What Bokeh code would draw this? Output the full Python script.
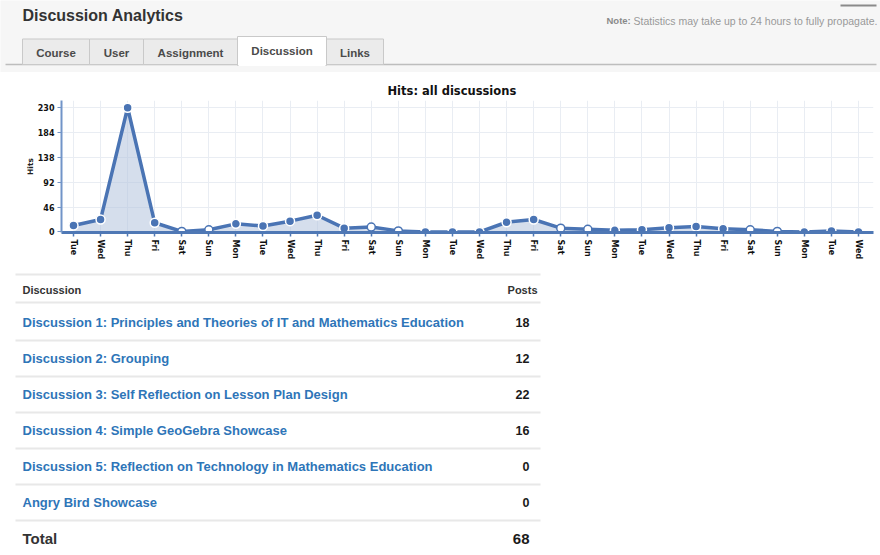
import math

from bokeh.core.properties import value
from bokeh.embed import file_html
from bokeh.layouts import column
from bokeh.models import ColumnDataSource, FixedTicker, Range1d, Title
from bokeh.plotting import figure
from bokeh.resources import INLINE

# ---- data ---------------------------------------------------------------
page_title = "Discussion Analytics"
tab_labels = ["Course", "User", "Assignment", "Discussion", "Links"]
active_tab = "Discussion"
note_label = "Note:"
note_text = "Statistics may take up to 24 hours to fully propagate."

chart_title = "Hits: all discussions"
days = ["Tue", "Wed", "Thu", "Fri", "Sat", "Sun", "Mon",
        "Tue", "Wed", "Thu", "Fri", "Sat", "Sun", "Mon",
        "Tue", "Wed", "Thu", "Fri", "Sat", "Sun", "Mon",
        "Tue", "Wed", "Thu", "Fri", "Sat", "Sun", "Mon",
        "Tue", "Wed"]
hits = [12, 23, 230, 17, 1, 4, 15, 11, 20, 31, 7, 9, 2, 0,
        0, 0, 18, 23, 7, 5, 3, 4, 8, 10, 6, 4, 1, 0, 2, 0]
y_ticks = [0, 46, 92, 138, 184, 230]

discussions = [
    "Discussion 1: Principles and Theories of IT and Mathematics Education",
    "Discussion 2: Grouping",
    "Discussion 3: Self Reflection on Lesson Plan Design",
    "Discussion 4: Simple GeoGebra Showcase",
    "Discussion 5: Reflection on Technology in Mathematics Education",
    "Angry Bird Showcase",
]
posts = [18, 12, 22, 16, 0, 0]

# ---- styling ------------------------------------------------------------
W = 880
PAGE_FONT = value("Liberation Sans")
CHART_FONT = "DejaVu Sans"
BLUE = "#4a74b4"
LINK = "#2e75b8"


def blank(height, y0, bg):
    """A bare figure whose data space equals page pixels (y grows downward)."""
    f = figure(width=W, height=height, output_backend="svg", toolbar_location=None,
               x_range=Range1d(0, W), y_range=Range1d(y0 + height, y0),
               x_axis_location=None, y_axis_location=None, frame_align=False,
               min_border=0, background_fill_color=bg, border_fill_color=bg)
    f.grid.visible = False
    f.outline_line_color = None
    return f


# ---- page header with tabs ---------------------------------------------
HEADER_H = 72
header = blank(HEADER_H, 0, "#f6f6f6")
header.text(x=[22], y=[15], text=[page_title], text_font=PAGE_FONT,
            text_font_size="16px", text_font_style="bold", text_color="#333333",
            text_baseline="middle")

tab_widths = [67, 54, 94, 89, 57]
lefts, rights = [], []
x = 22
for w in tab_widths:
    lefts.append(x)
    rights.append(x + w)
    x += w
header.segment(x0=[5], y0=[64], x1=[876], y1=[64], line_color="#bdbdbd", line_width=1.5)
for lbl, l, r in zip(tab_labels, lefts, rights):
    on = lbl == active_tab
    header.quad(left=[l], right=[r], top=[36 if on else 38.5], bottom=[65 if on else 64],
                fill_color="#ffffff" if on else "#ebebeb",
                line_color="#c9c9c9", line_width=1)
    if on:
        header.segment(x0=[l + 1], y0=[64.5], x1=[r - 1], y1=[64.5],
                       line_color="#ffffff", line_width=2)
    header.text(x=[(l + r) / 2], y=[50 if on else 52], text=[lbl], text_font=PAGE_FONT,
                text_font_size="11.5px", text_font_style="bold", text_color="#4a4a4a",
                text_align="center", text_baseline="middle")

header.text(x=[606], y=[20], text=[note_label], text_font=PAGE_FONT,
            text_font_size="9.5px", text_font_style="bold", text_color="#8a8a8a",
            text_baseline="middle")
header.text(x=[633], y=[20], text=[note_text], text_font=PAGE_FONT,
            text_font_size="10.5px", text_color="#999999", text_baseline="middle")
header.segment(x0=[840], y0=[5], x1=[876], y1=[5], line_color="#8a8a8a", line_width=2)

# ---- hits line chart ----------------------------------------------------
idx = list(range(len(hits)))
weekend = [d in ("Sat", "Sun") for d in days]
src = ColumnDataSource(dict(x=idx, y=hits, zero=[0] * len(hits)))
wk = ColumnDataSource(dict(x=[i for i in idx if not weekend[i]],
                           y=[hits[i] for i in idx if not weekend[i]]))
we = ColumnDataSource(dict(x=[i for i in idx if weekend[i]],
                           y=[hits[i] for i in idx if weekend[i]]))

chart = figure(width=W, height=190, output_backend="svg", toolbar_location=None,
               x_range=Range1d(-0.443, len(hits) - 1 + 0.554),
               y_range=Range1d(-1, 243.4), frame_align=False,
               min_border_left=61, min_border_right=7,
               min_border_top=28, min_border_bottom=29,
               background_fill_color="#ffffff", border_fill_color="#ffffff")
chart.outline_line_color = None
chart.add_layout(Title(text=chart_title, align="left", offset=326, standoff=5,
                       text_font=CHART_FONT, text_font_size="11.5px",
                       text_font_style="bold", text_color="#111111"), "above")

chart.varea(x="x", y1="zero", y2="y", source=src, fill_color="#b3c3dc", fill_alpha=0.55)
chart.line(x="x", y="y", source=src, line_color=BLUE, line_width=3.5)
chart.scatter(x="x", y="y", source=wk, size=9, fill_color=BLUE,
              line_color="#ffffff", line_width=1.5)
chart.scatter(x="x", y="y", source=we, size=8, fill_color="#ffffff",
              line_color=BLUE, line_width=1.5)

chart.xaxis.ticker = FixedTicker(ticks=idx)
chart.xaxis.major_label_overrides = {i: d for i, d in zip(idx, days)}
chart.xaxis.major_label_orientation = -math.pi / 2
chart.yaxis.ticker = FixedTicker(ticks=y_ticks)
chart.yaxis.axis_label = "Hits"

for ax in chart.axis:
    ax.minor_tick_line_color = None
    ax.major_tick_in = 0
    ax.major_tick_out = 4
    ax.major_label_text_font = CHART_FONT
    ax.major_label_text_font_size = "8px"
    ax.major_label_text_font_style = "bold"
    ax.major_label_text_color = "#111111"
    ax.major_label_standoff = 3
chart.xaxis.axis_line_color = "#4f78b5"
chart.xaxis.axis_line_width = 3
chart.xaxis.major_tick_line_color = "#4f78b5"
chart.xaxis.major_tick_line_width = 1.5
chart.yaxis.axis_line_color = "#7194c8"
chart.yaxis.axis_line_width = 2
chart.yaxis.major_tick_line_color = "#7194c8"
chart.yaxis.axis_label_text_font = CHART_FONT
chart.yaxis.axis_label_text_font_size = "7.5px"
chart.yaxis.axis_label_text_font_style = "bold"
chart.yaxis.axis_label_text_color = "#222222"
chart.yaxis.axis_label_standoff = 0
chart.grid.grid_line_color = "#e9edf3"
chart.grid.grid_line_width = 1

# ---- discussion posts table --------------------------------------------
TABLE_TOP = 262
table = blank(555 - TABLE_TOP, TABLE_TOP, "#ffffff")
row_h = 36
first_row = 322
n_rows = len(discussions) + 1
sep_y = [274, 302] + [first_row + row_h / 2 + row_h * i for i in range(n_rows)]
table.segment(x0=[15] * len(sep_y), y0=sep_y, x1=[540] * len(sep_y), y1=sep_y,
              line_color="#e8e8e8", line_width=2)

table.text(x=[22], y=[289], text=["Discussion"], text_font=PAGE_FONT,
           text_font_size="11px", text_font_style="bold", text_color="#333333",
           text_baseline="middle")
table.text(x=[537], y=[289], text=["Posts"], text_font=PAGE_FONT,
           text_font_size="11px", text_font_style="bold", text_color="#333333",
           text_baseline="middle", text_align="right")

rows_y = [first_row + row_h * i for i in range(len(discussions))]
table.text(x=[22] * len(discussions), y=rows_y, text=discussions, text_font=PAGE_FONT,
           text_font_size="13px", text_font_style="bold", text_color=LINK,
           text_baseline="middle")
table.text(x=[529] * len(posts), y=rows_y, text=[str(v) for v in posts],
           text_font=PAGE_FONT, text_font_size="12.5px", text_font_style="bold",
           text_color="#1a1a1a", text_baseline="middle", text_align="right")

total_y = first_row + row_h * len(discussions)
table.text(x=[22], y=[total_y], text=["Total"], text_font=PAGE_FONT,
           text_font_size="15px", text_font_style="bold", text_color="#333333",
           text_baseline="middle")
table.text(x=[529], y=[total_y], text=[str(sum(posts))], text_font=PAGE_FONT,
           text_font_size="15px", text_font_style="bold", text_color="#1a1a1a",
           text_baseline="middle", text_align="right")

page = column(header, chart, table, spacing=0)
open("out.html", "w").write(file_html(page, INLINE))
